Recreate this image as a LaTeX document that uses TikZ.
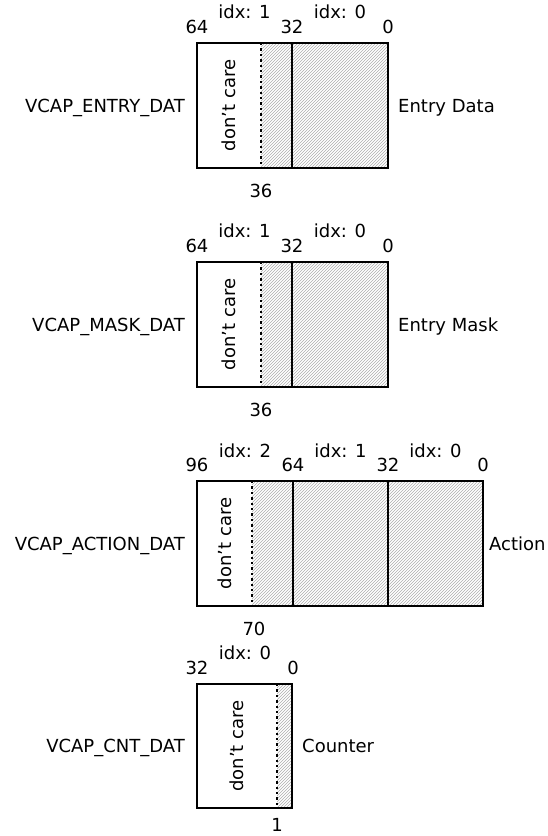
\documentclass[tikz,border=0pt]{standalone}
\usepackage{fontspec}
\setmainfont{DejaVu Sans}
\usetikzlibrary{patterns}

\begin{document}
\begin{tikzpicture} [
   x=1pt, y=-1pt, inner sep=0pt, font=\fontsize{18}{21}\selectfont,
   box/.style={draw, line width=1.3pt},
   hatch/.style={pattern=north east lines, pattern color=black!32},
   dc/.style={line width=2.4pt, dash pattern=on 2.4pt off 3pt},
   reg/.style={anchor=base east},
   kind/.style={anchor=base west},
   care/.style={rotate=90}
]
   \useasboundingbox (0,0) rectangle (547,836);

   % entry data
   \fill [hatch] (261,43) rectangle (388,168);
   \draw [box] (197,43) rectangle (388,168);
   \draw [box] (292,43) -- (292,168);
   \draw [dc] (261,43) -- (261,168);
   \node (ecare) [care] at (229,105.5) {don't care};
   \node (e64) at (197,27) {64};
   \node (e32) at (292,27) {32};
   \node (e0) at (388,27) {0};
   \node (eidx1) at (244.5,12) {idx: 1};
   \node (eidx0) at (340,12) {idx: 0};
   \node (e36) at (261,191) {36};
   \node (ereg) [reg] at (185,112) {VCAP\_ENTRY\_DAT};
   \node (ekind) [kind] at (398,112) {Entry Data};

   % entry mask
   \fill [hatch] (261,262) rectangle (388,387);
   \draw [box] (197,262) rectangle (388,387);
   \draw [box] (292,262) -- (292,387);
   \draw [dc] (261,262) -- (261,387);
   \node (mcare) [care] at (229,324.5) {don't care};
   \node (m64) at (197,246) {64};
   \node (m32) at (292,246) {32};
   \node (m0) at (388,246) {0};
   \node (midx1) at (244.5,231) {idx: 1};
   \node (midx0) at (340,231) {idx: 0};
   \node (m36) at (261,410) {36};
   \node (mreg) [reg] at (185,331) {VCAP\_MASK\_DAT};
   \node (mkind) [kind] at (398,331) {Entry Mask};

   % action
   \fill [hatch] (252,481) rectangle (483,606);
   \draw [box] (197,481) rectangle (483,606);
   \draw [box] (293,481) -- (293,606);
   \draw [box] (388,481) -- (388,606);
   \draw [dc] (252,481) -- (252,606);
   \node (acare) [care] at (224.5,543.5) {don't care};
   \node (a96) at (197,465) {96};
   \node (a64) at (293,465) {64};
   \node (a32) at (388,465) {32};
   \node (a0) at (483,465) {0};
   \node (aidx2) at (245,451) {idx: 2};
   \node (aidx1) at (340.5,451) {idx: 1};
   \node (aidx0) at (435.5,451) {idx: 0};
   \node (a70) at (254,629) {70};
   \node (areg) [reg] at (185,550) {VCAP\_ACTION\_DAT};
   \node (akind) [kind] at (489,550) {Action};

   % counter
   \fill [hatch] (277,684) rectangle (292,808);
   \draw [box] (197,684) rectangle (292,808);
   \draw [dc] (277,684) -- (277,808);
   \node (ccare) [care] at (237,746) {don't care};
   \node (c32) at (197,668) {32};
   \node (c0) at (293,668) {0};
   \node (cidx0) at (245,653) {idx: 0};
   \node (c1) at (277,825) {1};
   \node (creg) [reg] at (185,752.5) {VCAP\_CNT\_DAT};
   \node (ckind) [kind] at (302,752.5) {Counter};
\end{tikzpicture}
\end{document}
